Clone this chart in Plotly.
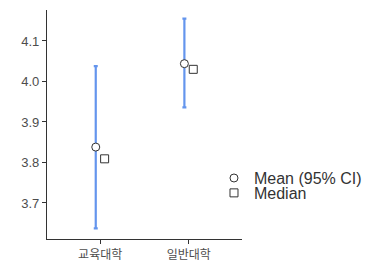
import plotly.graph_objects as go

categories = ["교육대학", "일반대학"]
mean_vals = [3.838, 4.044]
ci_low = [3.637, 3.936]
ci_high = [4.038, 4.155]
median_vals = [3.809, 4.030]
y_ticks = [3.7, 3.8, 3.9, 4.0, 4.1]

idx = list(range(len(categories)))
dodge = 0.05
x_mean = [i - dodge for i in idx]
x_med = [i + dodge for i in idx]

fig = go.Figure()
fig.add_trace(go.Scatter(
    x=x_mean, y=mean_vals, mode="markers", name="Mean (95% CI)", legend="legend",
    marker=dict(symbol="circle", size=8, color="white", line=dict(color="#333333", width=1)),
    error_y=dict(type="data", symmetric=False,
                 array=[h - m for h, m in zip(ci_high, mean_vals)],
                 arrayminus=[m - l for m, l in zip(mean_vals, ci_low)],
                 color="#6495ED", thickness=2.2, width=2),
))
fig.add_trace(go.Scatter(
    x=x_med, y=median_vals, mode="markers", name="Median", legend="legend2",
    marker=dict(symbol="square", size=8, color="white", line=dict(color="#333333", width=1)),
))

leg_common = dict(xanchor="left", yanchor="middle", bgcolor="rgba(0,0,0,0)",
                  font=dict(size=16, color="#333333"), itemwidth=30)

fig.update_layout(
    width=376, height=265,
    margin=dict(l=47, r=133, t=10, b=26),
    plot_bgcolor="white", paper_bgcolor="white",
    font=dict(family="Liberation Sans, Arial, sans-serif", color="#4D4D4D"),
    showlegend=True,
    legend=dict(x=0.852, y=0.266, **leg_common),
    legend2=dict(x=0.852, y=0.201, **leg_common),
    xaxis=dict(range=[-0.6, 1.6], tickvals=idx, ticktext=categories,
               showgrid=False, zeroline=False, showline=True, linecolor="#333333", linewidth=1.2,
               ticks="outside", ticklen=4, tickcolor="#333333", automargin=False,
               tickfont=dict(family="Noto Sans CJK KR", size=12, color="#4D4D4D")),
    yaxis=dict(range=[3.611, 4.1765], tickvals=y_ticks, tickformat=".1f",
               showgrid=False, zeroline=False, showline=True, linecolor="#333333", linewidth=1.2,
               ticks="outside", ticklen=4, tickcolor="#333333", automargin=False,
               tickfont=dict(size=13, color="#4D4D4D")),
)

fig.write_html("out.html", config={"displayModeBar": False},
               post_script="document.body.style.margin='0';document.body.style.overflow='hidden';")
